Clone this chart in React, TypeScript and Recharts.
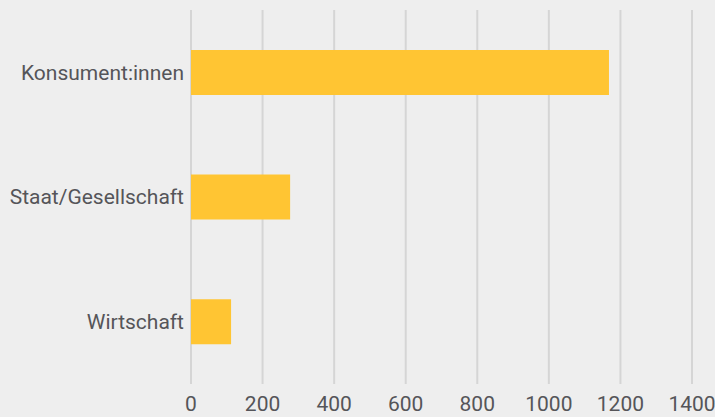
import { Bar, BarChart, CartesianGrid, XAxis, YAxis } from 'recharts';

const categories = ['Konsument:innen', 'Staat/Gesellschaft', 'Wirtschaft'];
const values = [1168, 277, 112];
const xTicks = [0, 200, 400, 600, 800, 1000, 1200, 1400];

const data = categories.map((name, i) => ({ name, value: values[i] }));

const font = { fontFamily: 'Roboto, "Liberation Sans", sans-serif', fontSize: 21, fill: '#555559' };

/** Horizontal bar chart on a light grey panel. */
export default function App() {
  return (
    <div style={{ position: 'absolute', left: 0, top: 0, width: 715, height: 417, background: '#eeeeee' }}>
      <BarChart
        width={715}
        height={417}
        data={data}
        layout="vertical"
        barCategoryGap="32%"
        margin={{ top: 10, right: 23, bottom: 0, left: 0 }}
      >
        <CartesianGrid horizontal={false} stroke="#d5d5d5" strokeWidth={2} />
        <XAxis
          type="number"
          domain={[0, 1400]}
          ticks={xTicks}
          axisLine={false}
          tickLine={false}
          tickSize={0}
          tickMargin={12}
          height={33}
          tick={font}
          interval={0}
        />
        <YAxis
          type="category"
          dataKey="name"
          width={191}
          axisLine={false}
          tickLine={false}
          tickSize={0}
          tickMargin={7}
          tick={font}
        />
        <Bar dataKey="value" fill="#ffc533" isAnimationActive={false} />
      </BarChart>
    </div>
  );
}
